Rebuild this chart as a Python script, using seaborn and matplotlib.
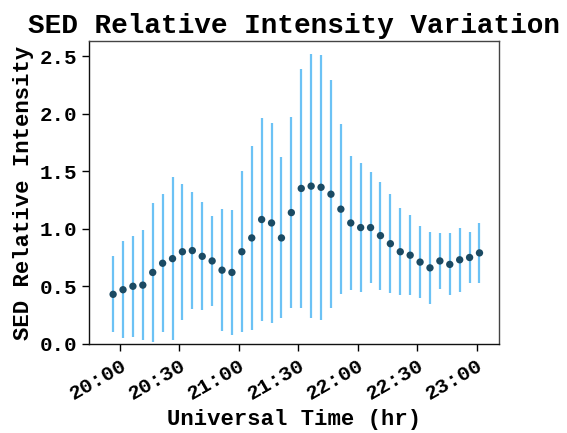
import pandas as pd
import seaborn as sns
import matplotlib.pyplot as plt
import matplotlib.dates as mdates

# Datos: intensidad relativa cada 5 minutos y su error
inicio = "2000-01-01 19:56:30"
n_puntos = 38
intensidad = [0.43, 0.47, 0.50, 0.51, 0.62, 0.70, 0.74, 0.80, 0.81, 0.76,
              0.72, 0.64, 0.62, 0.80, 0.92, 1.08, 1.05, 0.92, 1.14, 1.35,
              1.37, 1.36, 1.30, 1.17, 1.05, 1.01, 1.01, 0.94, 0.87, 0.80,
              0.77, 0.71, 0.66, 0.72, 0.69, 0.73, 0.75, 0.79]
error = [0.33, 0.42, 0.44, 0.48, 0.60, 0.60, 0.71, 0.59, 0.51, 0.47,
         0.39, 0.53, 0.54, 0.70, 0.80, 0.88, 0.87, 0.70, 0.83, 1.04,
         1.15, 1.15, 0.99, 0.74, 0.58, 0.56, 0.48, 0.47, 0.43, 0.38,
         0.35, 0.31, 0.31, 0.24, 0.27, 0.28, 0.22, 0.26]

df = pd.DataFrame({
    'tiempo': pd.date_range(inicio, periods=n_puntos, freq='5min'),
    'intensidad': intensidad,
    'error': error,
})

sns.set_style('ticks')
plt.rcParams['font.family'] = ['Liberation Mono', 'DejaVu Sans']
plt.rcParams['font.weight'] = 'bold'
plt.rcParams['text.color'] = 'black'
plt.rcParams['axes.labelcolor'] = 'black'
plt.rcParams['xtick.color'] = 'black'
plt.rcParams['ytick.color'] = 'black'

fig = plt.figure(figsize=(5.67, 4.33), dpi=100)
ax = fig.add_axes([0.157, 0.206, 0.723, 0.699])

# barras de error
ax.errorbar(df['tiempo'], df['intensidad'], yerr=df['error'], fmt='none',
            ecolor='#6cc2f5', elinewidth=1.6, capsize=0, zorder=1)
# puntos
sns.scatterplot(data=df, x='tiempo', y='intensidad', ax=ax, color='#1b4a63',
                s=28, edgecolor='none', zorder=2)

ax.set_ylim(0, 2.63)
ax.set_yticks([0.0, 0.5, 1.0, 1.5, 2.0, 2.5])
ax.set_xlim(pd.Timestamp('2000-01-01 19:44:20'), pd.Timestamp('2000-01-01 23:11:20'))
ax.xaxis.set_major_locator(mdates.MinuteLocator(byminute=[0, 30]))
ax.xaxis.set_major_formatter(mdates.DateFormatter('%H:%M'))

ax.tick_params(axis='both', labelsize=15, length=5, width=1, direction='out')
plt.setp(ax.get_xticklabels(), rotation=30, ha='right', rotation_mode='anchor')
plt.setp(ax.get_yticklabels(), fontweight='bold')
plt.setp(ax.get_xticklabels(), fontweight='bold')

for lado, sp in ax.spines.items():
    sp.set_linewidth(1.0)
    sp.set_color('#111111' if lado in ('left', 'bottom') else '#444444')

ax.set_xlabel('Universal Time (hr)', fontsize=16, fontweight='bold')
ax.set_ylabel('SED Relative Intensity', fontsize=16, fontweight='bold', labelpad=4)
ax.set_title('SED Relative Intensity Variation', fontsize=20, fontweight='bold', pad=6)

fig.savefig('out.png', dpi=100)
